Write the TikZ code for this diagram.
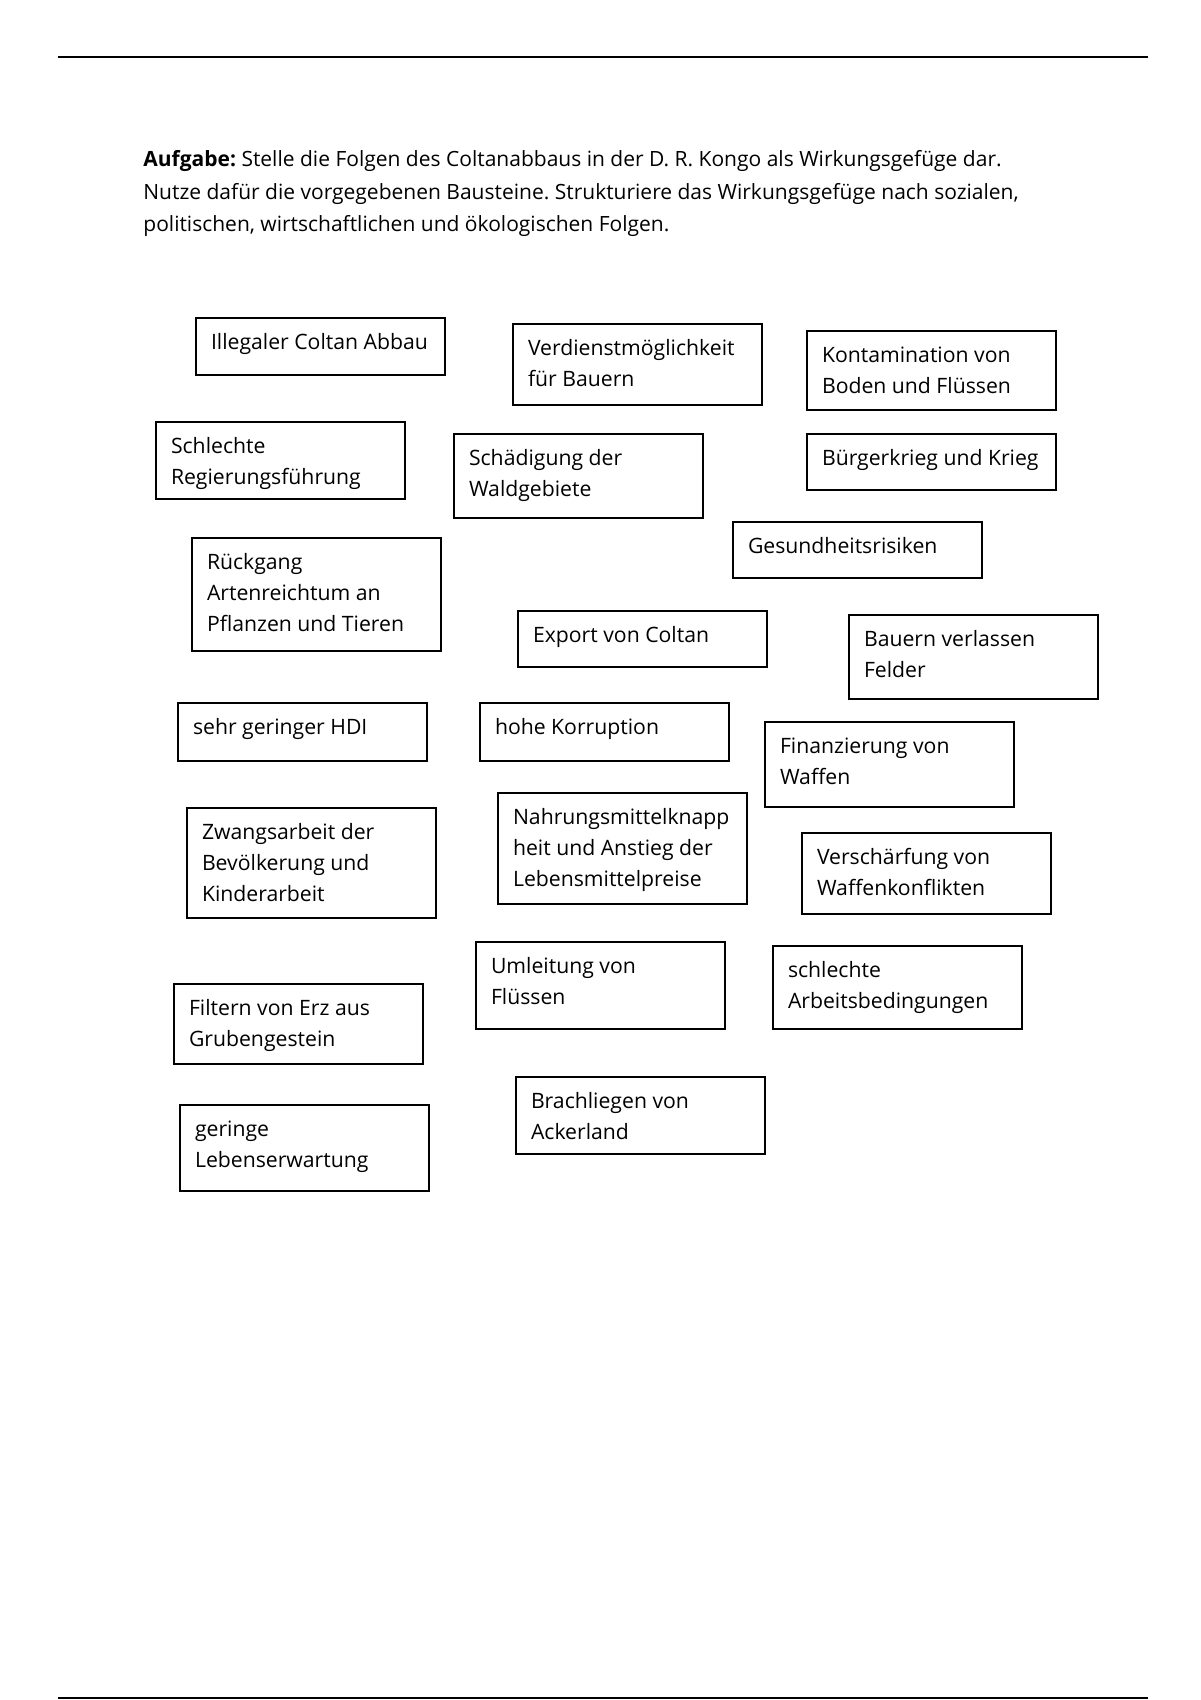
\documentclass[tikz,border=0pt]{standalone}
\usepackage{fontspec}
\setmainfont{Open Sans}
\frenchspacing

\begin{document}
\begin{tikzpicture}[
  x=0.5pt, y=-0.5pt,
  rule/.style={line width=1.4pt},
  task/.style={anchor=base west, inner sep=0pt, align=left, font=\fontsize{10.5}{16.25}\selectfont},
  tile/.style={draw, line width=1.2pt, anchor=north west, outer sep=0pt, inner xsep=7.5pt, inner ysep=5pt,
    font=\fontsize{10.6}{15.5}\selectfont,
    execute at begin node={\begin{minipage}[t][#1][t]{109.5pt}\raggedright\strut},
    execute at end node={\end{minipage}}}
]
\useasboundingbox (0,0) rectangle (1200,1700);
\draw[rule] (58,57) -- (1148,57);
\draw[rule] (58,1698) -- (1148,1698);

% Aufgabenstellung (base = letzte Zeile)
\node[task] (aufgabe) at (143,232) {\textbf{Aufgabe:} Stelle die Folgen des Coltanabbaus in der D. R. Kongo als Wirkungsgefüge dar.\\
Nutze dafür die vorgegebenen Bausteine. Strukturiere das Wirkungsgefüge nach sozialen,\\
politischen, wirtschaftlichen und ökologischen Folgen.};

% Bausteine
\node[tile=18.5pt] (abbau) at (196,318) {Illegaler Coltan Abbau};
\node[tile=30.5pt] (verdienst) at (513,324) {Verdienstmöglichkeit\\für Bauern};
\node[tile=29.5pt] (kontamination) at (807,331) {Kontamination von\\Boden und Flüssen};
\node[tile=28.5pt] (regierung) at (156,422) {Schlechte\\Regierungsführung};
\node[tile=32pt] (wald) at (454,434) {Schädigung der\\Waldgebiete};
\node[tile=18pt] (krieg) at (807,434) {Bürgerkrieg und Krieg};
\node[tile=18pt] (gesundheit) at (733,522) {Gesundheitsrisiken};
\node[tile=46.5pt] (arten) at (192,538) {Rückgang\\Artenreichtum an\\Pflanzen und Tieren};
\node[tile=18pt] (export) at (518,611) {Export von Coltan};
\node[tile=32pt] (felder) at (849,615) {Bauern verlassen\\Felder};
\node[tile=19pt] (hdi) at (178,703) {sehr geringer HDI};
\node[tile=19pt] (korruption) at (480,703) {hohe Korruption};
\node[tile=32.5pt] (waffen) at (765,722) {Finanzierung von\\Waffen};
\node[tile=45pt] (zwang) at (187,808) {Zwangsarbeit der\\Bevölkerung und\\Kinderarbeit};
\node[tile=45.5pt] (nahrung) at (498,793) {Nahrungsmittelknapp\\heit und Anstieg der\\Lebensmittelpreise};
\node[tile=30.5pt] (konflikte) at (802,833) {Verschärfung von\\Waffenkonflikten};
\node[tile=33.5pt] (umleitung) at (476,942) {Umleitung von\\Flüssen};
\node[tile=31.5pt] (arbeit) at (773,946) {schlechte\\Arbeitsbedingungen};
\node[tile=30pt] (filtern) at (174,984) {Filtern von Erz aus\\Grubengestein};
\node[tile=28.5pt] (brache) at (516,1077) {Brachliegen von\\Ackerland};
\node[tile=33pt] (lebenserwartung) at (180,1105) {geringe\\Lebenserwartung};
\end{tikzpicture}
\end{document}
